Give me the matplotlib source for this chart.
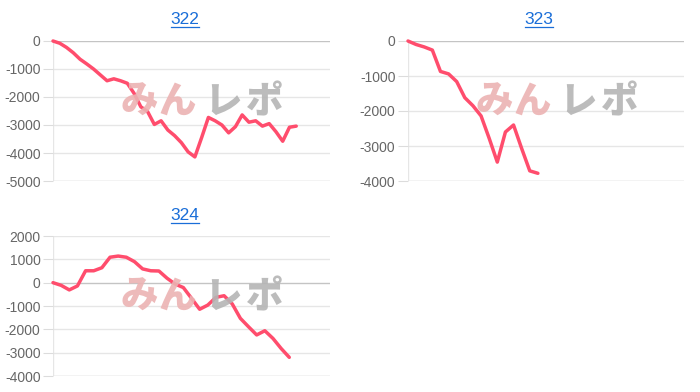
import matplotlib
matplotlib.use("Agg")
import matplotlib.pyplot as plt
from matplotlib.lines import Line2D

# ---- data ----
titles = ["322", "323", "324"]
s322 = [0, -80, -230, -420, -650, -820, -1000, -1210, -1420, -1350, -1420, -1510,
        -1870, -2350, -2520, -2980, -2850, -3180, -3380, -3630, -3960, -4140,
        -3450, -2730, -2850, -3000, -3280, -3060, -2640, -2900, -2850, -3040,
        -2950, -3240, -3580, -3080, -3040]
s323 = [0, -100, -170, -260, -870, -940, -1160, -1620, -1850, -2140, -2780,
        -3460, -2600, -2400, -3070, -3710, -3780]
s324 = [0, -115, -310, -140, 510, 510, 640, 1090, 1140, 1090, 900, 590, 510, 500,
        190, -60, -210, -670, -1140, -960, -630, -560, -910, -1530, -1890, -2240,
        -2060, -2390, -2820, -3200]
series = [s322, s323, s324]
ylims = [(-5000, 0), (-4000, 0), (-4000, 2000)]
xmax = [41, 34, 34]
watermark_left = "みん"
watermark_right = "レポ"

W, H = 700, 392
fig = plt.figure(figsize=(W / 100, H / 100), dpi=100)

# axes rectangles in pixels: left, top, right, bottom
rects = [(53, 41, 330, 181), (408, 41, 684, 181), (53, 236, 330, 376)]
title_pos = [(185, 20), (539, 20), (185, 216)]

line_color = "#ff4d6d"
grid_light = "#e6e6e6"
grid_dark = "#c4c4c4"
label_color = "#666666"
title_color = "#1a6ed8"

title_texts = []
for k in range(3):
    l, t, r, b = rects[k]
    ax = fig.add_axes([l / W, (H - b) / H, (r - l) / W, (b - t) / H])
    data = series[k]
    ax.plot(range(len(data)), data, color=line_color, lw=2.5, zorder=5,
            solid_joinstyle="round", solid_capstyle="round", clip_on=False)
    ax.set_xlim(0, xmax[k])
    y0, y1 = ylims[k]
    ax.set_ylim(y0, y1)
    yt = list(range(y0, y1 + 1, 1000))
    ax.set_yticks(yt)
    ax.set_yticklabels([str(v) for v in yt])
    ax.set_xticks([])
    for v in yt:
        c = grid_dark if (v == 0 or v == y0) else grid_light
        ax.axhline(v, color=c, lw=1, zorder=1)
    for sp in ax.spines.values():
        sp.set_visible(False)
    ax.axvline(0, color=grid_light, lw=1, zorder=1)
    ax.tick_params(axis="y", length=7.5, width=0.8, color="#dcdcdc", pad=1.5,
                   labelsize=10, labelcolor=label_color)
    for lab in ax.get_yticklabels():
        lab.set_fontfamily(["Liberation Sans", "DejaVu Sans"])
    ax.patch.set_alpha(0)

    # watermark
    cx = [l + 86, l + 124, l + 170, l + 212]
    chars = list(watermark_left) + list(watermark_right)
    cols = ["#ecb3b3", "#ecb3b3", "#b5b5b5", "#b5b5b5"]
    for ch, x, c in zip(chars, cx, cols):
        fig.text(x / W, (H - t - 61) / H, ch, color=c, fontsize=27,
                 fontweight="black", family=["Noto Sans CJK JP", "DejaVu Sans"],
                 ha="center", va="center", zorder=0, alpha=0.9)

    tx, ty = title_pos[k]
    tt = fig.text(tx / W, (H - ty) / H, titles[k], color=title_color, fontsize=12.5,
                  family=["Liberation Sans", "DejaVu Sans"], ha="center", va="center")
    title_texts.append(tt)

fig.canvas.draw()
renderer = fig.canvas.get_renderer()
for tt in title_texts:
    bb = tt.get_window_extent(renderer)
    y = bb.y0 + 1
    fig.add_artist(Line2D([bb.x0 / W, bb.x1 / W], [y / H, y / H],
                          transform=fig.transFigure, color=title_color, lw=0.9))

fig.savefig("out.png", dpi=100)
